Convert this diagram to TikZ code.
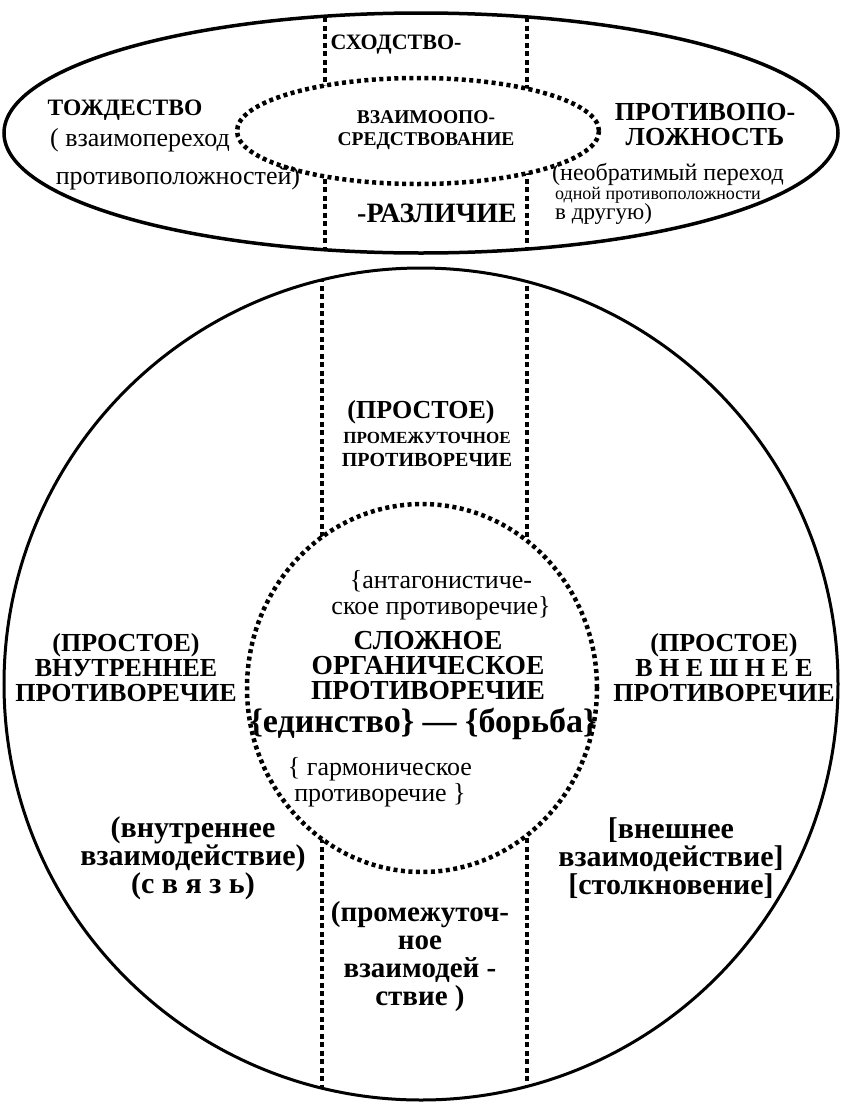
\documentclass[tikz,border=0pt]{standalone}
\usepackage{fontspec}
\setmainfont{Liberation Serif}

\begin{document}
\begin{tikzpicture}[x=1pt, y=-1pt,
    outline/.style={line width=3pt},
    dots/.style={line width=4.5pt, dash pattern=on 4pt off 3.5pt},
    bar/.style={line width=4pt, dash pattern=on 5pt off 3.5pt},
    bigcap/.style={font=\bfseries\fontsize{26}{25}\selectfont, align=center},
    midcap/.style={font=\bfseries\fontsize{20}{23}\selectfont, align=center},
    plain/.style={font=\fontsize{26}{26}\selectfont, align=center},
    lower/.style={font=\bfseries\fontsize{30}{28}\selectfont, align=center}]
    \useasboundingbox (0,0) rectangle (843,1106);

    % top ellipse
    \begin{scope}
        \clip (421,133) ellipse [x radius=417pt, y radius=120pt];
        \foreach \x in {325, 527} {
        \draw[bar] (\x,0) -- (\x,260);
        }
    \end{scope}
    \fill[white] (418,131) ellipse [x radius=181pt, y radius=53pt];
    \draw[dots] (418,131) ellipse [x radius=181pt, y radius=53pt];
    \draw[outline, line width=3.5pt] (421,133) ellipse [x radius=417pt, y radius=120pt];

    \node[bigcap, font=\bfseries\fontsize{22}{22}\selectfont] (sxod) at (396,45) {СХОДСТВО-};
    \node[bigcap, font=\bfseries\fontsize{28}{28}\selectfont] (razl) at (437,213) {-РАЗЛИЧИЕ};
    \node[font=\bfseries\fontsize{19.5}{22}\selectfont, align=center] (vzaim) at (426,130) {ВЗАИМООПО-\\СРЕДСТВОВАНИЕ};
    \node[bigcap, font=\bfseries\fontsize{23.5}{23}\selectfont] (tozh) at (125,110) {ТОЖДЕСТВО};
    \node[plain] (tozh1) at (140,140) {( взаимопереход};
    \node[plain] (tozh2) at (178,178) {противоположностей)};
    \node[bigcap] (prot) at (705,125) {ПРОТИВОПО-\\ЛОЖНОСТЬ};
    \node[plain, inner sep=0pt, font=\fontsize{24}{24}\selectfont, anchor=west] (prot1) at (552,174) {(необратимый переход};
    \node[plain, inner sep=0pt, font=\fontsize{18}{18}\selectfont, anchor=west] (prot2) at (555,195) {одной противоположности};
    \node[plain, inner sep=0pt, font=\fontsize{23}{23}\selectfont, anchor=west] (prot3) at (555,214) {в другую)};

    % big circle
    \begin{scope}
        \clip (421,684) ellipse [x radius=417pt, y radius=416pt];
        \foreach \x in {322, 527} {
        \draw[bar] (\x,260) -- (\x,1106);
        }
    \end{scope}
    \fill[white] (422,688) ellipse [x radius=175pt, y radius=184pt];
    \draw[dots] (422,688) ellipse [x radius=175pt, y radius=184pt];
    \draw[outline] (421,684) ellipse [x radius=417pt, y radius=416pt];

    \node[bigcap] (prom) at (421,412) {(ПРОСТОЕ)};
    \node[midcap] (prom1) at (427,449) {{\fontsize{17}{17}\selectfont ПРОМЕЖУТОЧНОЕ}\\ПРОТИВОРЕЧИЕ};

    \node[plain] (anta) at (441,595) {\{антагонистиче-\\ское противоречие\}};
    \node[bigcap, inner sep=0pt, font=\bfseries\fontsize{27.5}{25}\selectfont] (slozh) at (428,666) {СЛОЖНОЕ\\ОРГАНИЧЕСКОЕ\\ПРОТИВОРЕЧИЕ};
    \node[inner sep=0pt, font=\bfseries\fontsize{34}{34}\selectfont] (edin) at (423,724) {\{единство\} — \{борьба\}};
    \node[plain] (garm) at (380,782) {\{ гармоническое\\противоречие \}};

    \node[bigcap] (vnutr) at (126,668) {(ПРОСТОЕ)\\ВНУТРЕННЕЕ\\ПРОТИВОРЕЧИЕ};
    \node[bigcap] (vnesh) at (724,668) {(ПРОСТОЕ)\\В Н Е Ш Н Е Е\\ПРОТИВОРЕЧИЕ};

    \node[lower] (svyaz) at (193,858) {(внутреннее\\взаимодействие)\\(с в я з ь)};
    \node[lower] (stolk) at (671,858) {{[}внешнее\\взаимодействие{]}\\{[}столкновение{]}};
    \node[lower, font=\bfseries\fontsize{29}{28}\selectfont] (promv) at (420,957) {(промежуточ-\\ное\\взаимодей -\\ствие )};
\end{tikzpicture}
\end{document}
